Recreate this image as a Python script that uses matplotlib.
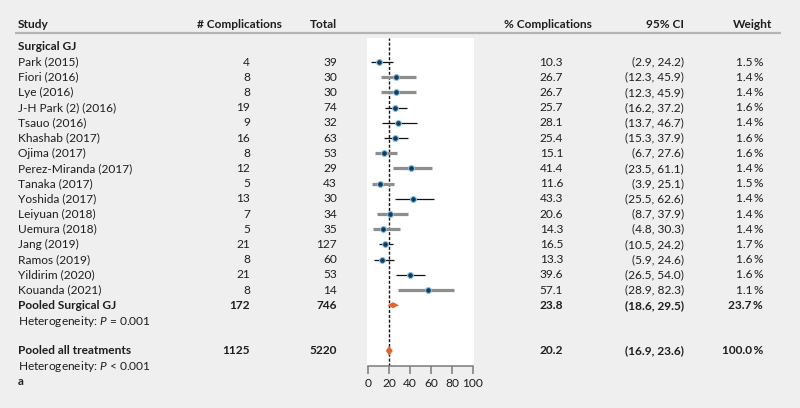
import matplotlib
matplotlib.use("Agg")
import matplotlib.pyplot as plt

plt.rcParams['font.family'] = ['Lato', 'DejaVu Sans']
plt.rcParams['mathtext.fontset'] = 'custom'
plt.rcParams['mathtext.rm'] = 'Lato'
plt.rcParams['mathtext.it'] = 'Lato:italic'

# ---------------- data ----------------
studies = ["Park (2015)", "Fiori (2016)", "Lye (2016)", "J-H Park (2) (2016)", "Tsauo (2016)",
           "Khashab (2017)", "Ojima (2017)", "Perez-Miranda (2017)", "Tanaka (2017)",
           "Yoshida (2017)", "Leiyuan (2018)", "Uemura (2018)", "Jang (2019)",
           "Ramos (2019)", "Yildirim (2020)", "Kouanda (2021)"]
complications = [4, 8, 8, 19, 9, 16, 8, 12, 5, 13, 7, 5, 21, 8, 21, 8]
totals = [39, 30, 30, 74, 32, 63, 53, 29, 43, 30, 34, 35, 127, 60, 53, 14]
pct = [10.3, 26.7, 26.7, 25.7, 28.1, 25.4, 15.1, 41.4, 11.6, 43.3, 20.6, 14.3, 16.5, 13.3, 39.6, 57.1]
ci_low = [2.9, 12.3, 12.3, 16.2, 13.7, 15.3, 6.7, 23.5, 3.9, 25.5, 8.7, 4.8, 10.5, 5.9, 26.5, 28.9]
ci_high = [24.2, 45.9, 45.9, 37.2, 46.7, 37.9, 27.6, 61.1, 25.1, 62.6, 37.9, 30.3, 24.2, 24.6, 54.0, 82.3]
weights = [1.5, 1.4, 1.4, 1.6, 1.4, 1.6, 1.6, 1.4, 1.5, 1.4, 1.4, 1.4, 1.7, 1.6, 1.6, 1.1]
ci_gray = [False, True, True, False, False, False, True, True, True, False, True, True,
           False, False, False, True]

group_name = "Surgical GJ"
pooled_group = dict(label="Pooled Surgical GJ", n=172, total=746, pct=23.8, lo=18.6, hi=29.5,
                    weight=23.7, het="Heterogeneity: $P$ = 0.001")
pooled_all = dict(label="Pooled all treatments", n=1125, total=5220, pct=20.2, lo=16.9, hi=23.6,
                  weight=100.0, het="Heterogeneity: $P$ < 0.001")
headers = ["Study", "# Complications", "Total", "% Complications", "95% CI", "Weight"]
xticks = [0, 20, 40, 60, 80, 100]

# ---------------- layout ----------------
W, H = 800, 408
BG = "#efefef"
TXT = "#1e1e1e"
FS = 8.6
ORANGE = "#e0662f"

ROW0_PX, ROW_H = 62.0, 15.2   # pixel y of row 1 and row spacing


def px_to_row(p):
    return 1 + (p - ROW0_PX) / ROW_H


fig = plt.figure(figsize=(W / 100, H / 100), dpi=100, facecolor=BG)
tab = fig.add_axes([0, 0, 1, 1])
tab.set_xlim(0, W)
tab.set_ylim(px_to_row(H), px_to_row(0))
tab.axis("off")

# column x positions (pixels) and alignment
X_STUDY = 18
X_N_HDR, X_N = 282, 250
X_TOT = 337
X_PCT_HDR, X_PCT = 592, 563
X_CI = 684
X_W_HDR, X_W = 772, 763

hdr_row = px_to_row(25)
for txt, x in zip(headers, [X_STUDY, X_N_HDR, X_TOT, X_PCT_HDR, X_CI, X_W_HDR]):
    tab.text(x, hdr_row, txt, ha="left" if txt == "Study" else "right", va="center",
             fontsize=FS, fontweight="bold", color=TXT)
tab.plot([15, 781], [px_to_row(33)] * 2, color="#b4b4b4", lw=1.6, solid_capstyle="butt")

tab.text(X_STUDY, px_to_row(47), group_name, ha="left", va="center", fontsize=FS,
         fontweight="bold", color=TXT)


def row_texts(r, name, n, tot, p, lo, hi, w, bold=False):
    fw = "bold" if bold else "normal"
    kw = dict(va="center", fontsize=FS, fontweight=fw, color=TXT)
    tab.text(X_STUDY, r, name, ha="left", **kw)
    tab.text(X_N, r, f"{n}", ha="right", **kw)
    tab.text(X_TOT, r, f"{tot}", ha="right", **kw)
    tab.text(X_PCT, r, f"{p:.1f}", ha="right", **kw)
    tab.text(X_CI, r, f"({lo:.1f}, {hi:.1f})", ha="right", **kw)
    tab.text(X_W, r, f"{w:.1f}\u2009%", ha="right", **kw)


rows = list(range(1, len(studies) + 1))
for r, s, n, t, p, lo, hi, w in zip(rows, studies, complications, totals, pct, ci_low, ci_high, weights):
    row_texts(r, s, n, t, p, lo, hi, w)

r_pg = len(studies) + 1
r_pa = r_pg + 3
row_texts(r_pg, pooled_group["label"], pooled_group["n"], pooled_group["total"], pooled_group["pct"],
          pooled_group["lo"], pooled_group["hi"], pooled_group["weight"], bold=True)
tab.text(X_STUDY, r_pg + 1.1, pooled_group["het"], ha="left", va="center", fontsize=FS, color=TXT)
row_texts(r_pa, pooled_all["label"], pooled_all["n"], pooled_all["total"], pooled_all["pct"],
          pooled_all["lo"], pooled_all["hi"], pooled_all["weight"], bold=True)
tab.text(X_STUDY, r_pa + 1.0, pooled_all["het"], ha="left", va="center", fontsize=FS, color=TXT)
tab.text(X_STUDY, r_pa + 2.0, "a", ha="left", va="center", fontsize=FS, fontweight="bold", color=TXT)

# ---------------- forest panel ----------------
PX_L, PX_R, PX_T, PX_B = 367, 474, 38, 366
fa = fig.add_axes([PX_L / W, 1 - PX_B / H, (PX_R - PX_L) / W, (PX_B - PX_T) / H])
fa.set_facecolor("white")
fa.set_xlim(-1, 101)
fa.set_ylim(px_to_row(PX_B), px_to_row(PX_T))
for side in ["top", "left", "right"]:
    fa.spines[side].set_visible(False)
fa.spines["bottom"].set_color("#7a7a7a")
fa.spines["bottom"].set_linewidth(1.1)
fa.spines["bottom"].set_bounds(0, 100)
fa.set_yticks([])
fa.set_xticks(xticks)
fa.tick_params(axis="x", direction="out", length=6, width=1.1, color="#7a7a7a",
               labelsize=FS, labelcolor=TXT, pad=2.5)

fa.axvline(pooled_all["pct"], color="#111111", lw=1.0, ls=(0, (2.2, 1.3)), zorder=1)

for r, p, lo, hi, g in zip(rows, pct, ci_low, ci_high, ci_gray):
    if g:
        fa.plot([lo, hi], [r, r], color="#8e8e8e", lw=2.3, solid_capstyle="butt", zorder=2)
    else:
        fa.plot([lo, hi], [r, r], color="#111111", lw=0.9, solid_capstyle="butt", zorder=2)
    fa.plot([p], [r], marker="o", ms=4.2, mfc="#173a5c", mec="#86c3e3", mew=0.8, zorder=3)


def diamond(ax, r, lo, mid, hi, h):
    ax.fill([lo, mid, hi, mid], [r, r - h, r, r + h], color=ORANGE, lw=0, zorder=3)


diamond(fa, r_pg, pooled_group["lo"], pooled_group["pct"], pooled_group["hi"], 0.2)
diamond(fa, r_pa, pooled_all["lo"], pooled_all["pct"], pooled_all["hi"], 0.32)

fig.savefig("out.png", dpi=100, facecolor=BG)
